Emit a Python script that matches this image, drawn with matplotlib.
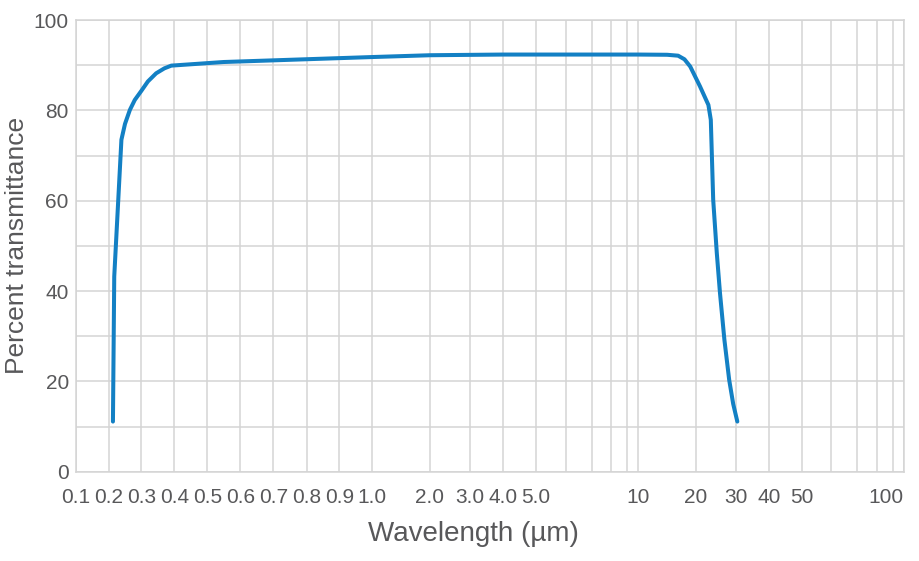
import numpy as np
import matplotlib.pyplot as plt
from matplotlib.ticker import FixedLocator, NullFormatter

# transmittance curve
wavelength = [0.213, 0.217, 0.239, 0.25, 0.265, 0.28, 0.30, 0.32, 0.345, 0.37, 0.391,
              0.55, 1.0, 2.0, 4.0, 10.0, 15.0, 16.9, 18.0, 19.0, 21.0, 23.1, 23.7,
              24.3, 25.2, 26.0, 27.1, 28.3, 29.3, 30.4]
transmittance = [11.1, 43.2, 73.5, 77.0, 80.1, 82.3, 84.3, 86.4, 88.2, 89.3, 89.9,
                 90.7, 91.8, 92.2, 92.35, 92.35, 92.3, 92.1, 91.3, 89.7, 85.3, 81.2, 77.9,
                 60.2, 48.4, 39.5, 29.2, 20.3, 15.0, 11.1]

label_ticks = [0.1, 0.2, 0.3, 0.4, 0.5, 0.6, 0.7, 0.8, 0.9, 1.0, 2.0, 3.0, 4.0, 5.0,
               10, 20, 30, 40, 50, 100]
tick_labels = ['0.1', '0.2', '0.3', '0.4', '0.5', '0.6', '0.7', '0.8', '0.9', '1.0',
               '2.0', '3.0', '4.0', '5.0', '10', '20', '30', '40', '50', '100']

# the printed axis is hand-spaced, not a true log axis: map grid values to their spacing
scale_values = np.array([0.1, 0.2, 0.3, 0.4, 0.5, 0.6, 0.7, 0.8, 0.9, 1, 2, 3, 4, 5, 6, 7, 8, 9,
                         10, 20, 30, 40, 50, 60, 70, 80, 90, 100])
scale_pos = np.array([75.7, 108.7, 141.3, 174.3, 207.3, 240.3, 273.3, 306.7, 339.3, 372.3,
                      430, 470, 502.7, 536, 565.7, 591.7, 610.7, 626.7, 638.3, 696, 736,
                      769, 802, 831.3, 857.3, 876.7, 892.7, 904])


def forward(x):
    return np.interp(x, scale_values, scale_pos)


def inverse(p):
    return np.interp(p, scale_pos, scale_values)


plt.rcParams['font.family'] = ['Liberation Sans', 'DejaVu Sans']
text_color = '#58585a'
grid_color = '#d4d4d4'

fig = plt.figure(figsize=(9.2, 5.61), dpi=100)
ax = fig.add_axes([75.7 / 920, 1 - 471.7 / 561, (904 - 75.7) / 920, (471.7 - 20) / 561])
ax.set_xscale('function', functions=(forward, inverse))
ax.set_xlim(0.1, 100)
ax.set_ylim(0, 100)

ax.plot(wavelength, transmittance, color='#1380c4', linewidth=2.9,
        solid_capstyle='round', solid_joinstyle='round', zorder=3)

ax.xaxis.set_major_locator(FixedLocator(label_ticks))
ax.set_xticklabels(tick_labels)
ax.xaxis.set_minor_locator(FixedLocator(scale_values))
ax.xaxis.set_minor_formatter(NullFormatter())
ax.set_yticks([0, 20, 40, 60, 80, 100])
ax.set_yticks(np.arange(0, 101, 10), minor=True)

ax.grid(which='both', color=grid_color, linewidth=1.1)
ax.set_axisbelow(True)
for s in ax.spines.values():
    s.set_color(grid_color)
    s.set_linewidth(1.1)

ax.tick_params(which='both', length=0, labelsize=15, labelcolor=text_color)
ax.tick_params(axis='x', pad=12)
ax.tick_params(axis='y', pad=5)
ax.get_xticklabels()[-1].set_horizontalalignment('right')

ax.set_xlabel('Wavelength (µm)', fontsize=20, color=text_color, labelpad=10, x=0.48)
ax.set_ylabel('Percent transmittance', fontsize=19, color=text_color, labelpad=3)

fig.savefig('out.png', dpi=100)
